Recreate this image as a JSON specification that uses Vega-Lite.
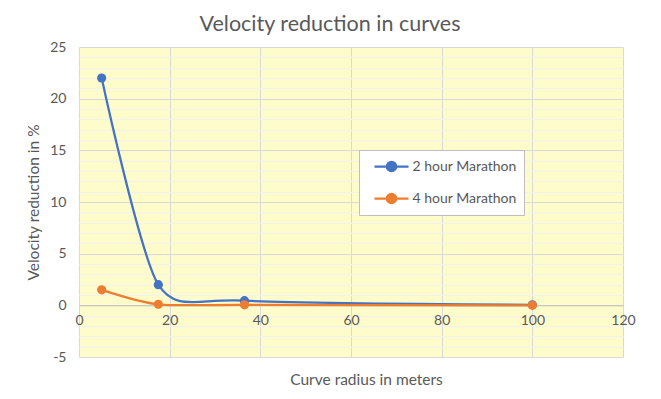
{
  "$schema": "https://vega.github.io/schema/vega-lite/v6.json",
  "width": 544,
  "height": 310,
  "autosize": {"type": "none"},
  "padding": {"left": 79, "top": 47, "right": 38, "bottom": 42},
  "background": "white",
  "title": {
    "text": "Velocity reduction in curves",
    "font": "Lato",
    "fontSize": 21.5,
    "fontWeight": "normal",
    "color": "#595959",
    "anchor": "middle",
    "dx": -21,
    "offset": 5
  },
  "config": {
    "view": {"fill": "#FFFCCC", "stroke": null},
    "font": "Lato"
  },
  "data": {
    "values": [
      {"radius": 5, "v": 22.0, "series": "2 hour Marathon"},
      {"radius": 17.5, "v": 2.0, "series": "2 hour Marathon"},
      {"radius": 36.5, "v": 0.45, "series": "2 hour Marathon"},
      {"radius": 100, "v": 0.05, "series": "2 hour Marathon"},
      {"radius": 5, "v": 1.5, "series": "4 hour Marathon"},
      {"radius": 17.5, "v": 0.1, "series": "4 hour Marathon"},
      {"radius": 36.5, "v": 0.05, "series": "4 hour Marathon"},
      {"radius": 100, "v": 0.0, "series": "4 hour Marathon"}
    ]
  },
  "encoding": {
    "x": {
      "field": "radius",
      "type": "quantitative",
      "scale": {"domain": [0, 120], "nice": false, "zero": false},
      "axis": {
        "title": "Curve radius in meters",
        "values": [0, 20, 40, 60, 80, 100, 120],
        "offset": -51.67,
        "ticks": false,
        "labelFlush": false,
        "labelOverlap": false,
        "domainColor": "#BFBFBF",
        "domainWidth": 1,
        "gridColor": "#D9D9D9",
        "gridWidth": 1,
        "labelFont": "Lato",
        "labelFontSize": 14,
        "labelColor": "#595959",
        "labelPadding": 8,
        "titleFont": "Lato",
        "titleFontSize": 15.5,
        "titleFontWeight": "normal",
        "titleColor": "#595959",
        "titleX": 287,
        "titleY": 79.5,
        "titleAlign": "center",
        "titleBaseline": "alphabetic"
      }
    },
    "y": {
      "field": "v",
      "type": "quantitative",
      "scale": {"domain": [-5, 25], "nice": false, "zero": false},
      "axis": {
        "title": "Velocity reduction in %",
        "values": [-5, -4, -3, -2, -1, 0, 1, 2, 3, 4, 5, 6, 7, 8, 9, 10, 11, 12, 13, 14, 15, 16, 17, 18, 19, 20, 21, 22, 23, 24, 25],
        "labelExpr": "datum.value % 5 === 0 ? '' + datum.value : ''",
        "labelFlush": false,
        "labelOverlap": false,
        "ticks": false,
        "domain": false,
        "gridColor": {"condition": {"test": "datum.value % 5 === 0", "value": "#D9D9D9"}, "value": "#F2F2F2"},
        "gridWidth": 1,
        "labelFont": "Lato",
        "labelFontSize": 14,
        "labelColor": "#595959",
        "labelPadding": 13,
        "titleFont": "Lato",
        "titleFontSize": 15.5,
        "titleFontWeight": "normal",
        "titleColor": "#595959",
        "titlePadding": 8
      }
    },
    "color": {
      "field": "series",
      "type": "nominal",
      "scale": {"domain": ["2 hour Marathon", "4 hour Marathon"], "range": ["#4472C4", "#ED7D31"]},
      "legend": {
        "title": null,
        "orient": "none",
        "legendX": 280,
        "legendY": 103,
        "fillColor": "white",
        "strokeColor": "#BFBFBF",
        "padding": 6.5,
        "symbolType": "M-2,0L2,0M0.55,0A0.55,0.55,0,1,1,-0.55,0A0.55,0.55,0,1,1,0.55,0Z",
        "symbolSize": 289,
        "symbolStrokeWidth": 2.25,
        "symbolOffset": 16,
        "labelOffset": 11,
        "labelFont": "Lato",
        "labelFontSize": 14,
        "labelColor": "#595959",
        "rowPadding": 12,
        "encode": {
          "symbols": {
            "update": {
              "fill": {"scale": "color", "field": "value"},
              "stroke": {"scale": "color", "field": "value"},
              "opacity": {"value": 1}
            }
          }
        }
      }
    }
  },
  "layer": [
    {"mark": {"type": "line", "interpolate": "cardinal", "tension": 0.25, "strokeWidth": 2.25}},
    {"mark": {"type": "point", "filled": true, "size": 85, "opacity": 1}}
  ]
}
